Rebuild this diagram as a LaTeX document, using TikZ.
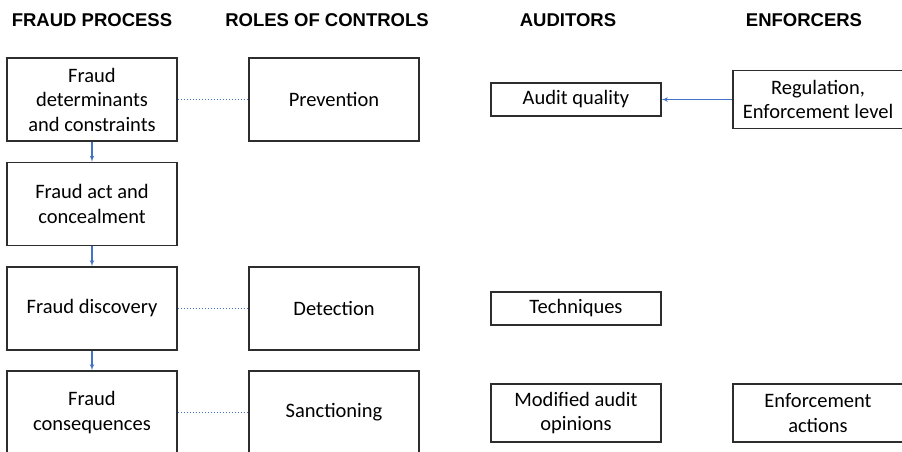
\documentclass[tikz,border=0pt]{standalone}
\usepackage{fontspec}
\setmainfont{Carlito}
\newfontfamily\headfont{Liberation Sans}
\usetikzlibrary{arrows}
\usetikzlibrary{positioning}
\definecolor{mblue}{RGB}{68, 114, 196}
\definecolor{mgray}{RGB}{45, 45, 45}
\tikzset{box/.style = {draw = mgray, line width = 1.3pt, align = center, inner sep = 0,
                       minimum width = 170pt, minimum height = 83pt,
                       font = \fontsize{20.5}{24.5}\selectfont}}
\tikzset{head/.style = {anchor = base, inner sep = 0,
                        font = \headfont\bfseries\fontsize{18.5}{22}\selectfont}}
\tikzset{flow/.style = {draw = mblue, line width = 1.1pt, -latex'}}
\tikzset{link/.style = {draw = mblue, line width = 1.4pt, dash pattern = on 1.8pt off 1.2pt}}

\begin{document}
\begin{tikzpicture}[x = 1pt, y = -1pt]
    \useasboundingbox (0, 0) rectangle (902, 451);
    \clip (0, 0) rectangle (902, 451);

    \node [head] (hproc) at (92, 26) {FRAUD PROCESS};
    \node [head] (hrole) at (327, 26) {ROLES OF CONTROLS};
    \node [head] (haud) at (568, 26) {AUDITORS};
    \node [head] (henf) at (804, 26) {ENFORCERS};

    \node [box] (det) at (92, 99.5) {Fraud\\determinants\\and constraints};
    \node [box] (act) at (92, 204) {Fraud act and\\concealment};
    \node [box] (disc) at (92, 308.5) {Fraud discovery};
    \node [box] (cons) at (92, 412.5) {Fraud\\consequences};

    \node [box] (prev) at (334, 99.5) {Prevention};
    \node [box] (detc) at (334, 308.5) {Detection};
    \node [box] (sanc) at (334, 412.5) {Sanctioning};

    \node [box, minimum height = 33pt] (aq) at (576, 99.5) {Audit quality};
    \node [box, minimum height = 33pt] (tech) at (576, 308.5) {Techniques};
    \node [box, minimum height = 58pt] (mod) at (576, 413) {Modified audit\\opinions};

    \node [box, minimum height = 58pt] (reg) at (818, 99.5) {Regulation,\\Enforcement level};
    \node [box, minimum height = 58pt] (enf) at (818, 413) {Enforcement\\actions};

    \draw [flow] (det) -- (act);
    \draw [flow] (act) -- (disc);
    \draw [flow] (disc) -- (cons);

    \draw [link] (det) -- (prev);
    \draw [link] (disc) -- (detc);
    \draw [link] (cons) -- (sanc);

    \draw [flow] (reg) -- (aq);
\end{tikzpicture}
\end{document}
